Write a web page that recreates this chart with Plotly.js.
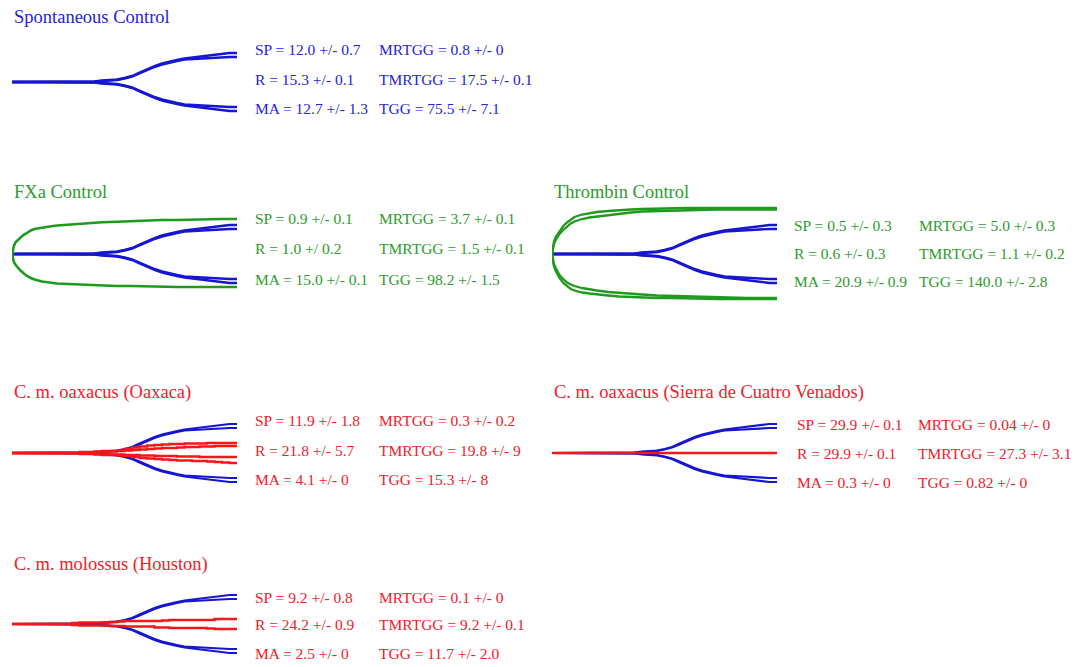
<!DOCTYPE html>
<html>
<head>
<meta charset="utf-8">
<script src="https://cdn.plot.ly/plotly-3.0.1.min.js"></script>
<style>html,body{margin:0;padding:0;background:#fff;}#chart{width:1084px;height:667px;}</style>
</head>
<body>
<div id="chart"></div>
<script>
// ---------- DATA ----------
const panelTitles = ['Spontaneous Control', 'FXa Control', 'Thrombin Control',
  'C. m. oaxacus (Oaxaca)', 'C. m. oaxacus (Sierra de Cuatro Venados)', 'C. m. molossus (Houston)'];
const leftParams = ['SP', 'R', 'MA'];
const rightParams = ['MRTGG', 'TMRTGG', 'TGG'];
const spValues = ['12.0 +/- 0.7', '0.9 +/- 0.1', '0.5 +/- 0.3', '11.9 +/- 1.8', '29.9 +/- 0.1', '9.2 +/- 0.8'];
const rValues = ['15.3 +/- 0.1', '1.0 +/ 0.2', '0.6 +/- 0.3', '21.8 +/- 5.7', '29.9 +/- 0.1', '24.2 +/- 0.9'];
const maValues = ['12.7 +/- 1.3', '15.0 +/- 0.1', '20.9 +/- 0.9', '4.1 +/- 0', '0.3 +/- 0', '2.5 +/- 0'];
const mrtggValues = ['0.8 +/- 0', '3.7 +/- 0.1', '5.0 +/- 0.3', '0.3 +/- 0.2', '0.04 +/- 0', '0.1 +/- 0'];
const tmrtggValues = ['17.5 +/- 0.1', '1.5 +/- 0.1', '1.1 +/- 0.2', '19.8 +/- 9', '27.3 +/- 3.1', '9.2 +/- 0.1'];
const tggValues = ['75.5 +/- 7.1', '98.2 +/- 1.5', '140.0 +/- 2.8', '15.3 +/- 8', '0.82 +/- 0', '11.7 +/- 2.0'];

// time grid (min) for spontaneous/venom traces
const timeMin = [0,2,4,6,8,10,12,14,16,18,20,22,24,26,28,30,32,34,36,38,40,42,44,46,48,50,52,54,56,58,60];
// spontaneous control amplitude (two replicates)
const ctrlRepA = [0,0,0,0,0,0,0,0,0,0,0,0.5,1.5,2,2.5,4,6,9.5,13,16,18.5,20.5,22,23.5,24.5,25.5,26.5,27.5,28.5,29,29];
const ctrlRepB = [0,0,0,0,0,0,0,0,0,0,0,0.5,1,1.5,2,3.5,5.5,8.5,12,15,17.5,19.5,21,22.5,23,23.5,24,24.5,25,25,25];
// C. m. oaxacus (Oaxaca) individual traces
const oaxLine1 = [0,0,0,0,0,0,0,0,0,1,1,1.5,2,2,2.5,4,5.5,6.5,7.5,8,8.5,9,9,9.5,9.5,9.5,10,10,10,10,10];
const oaxLine2 = [0,0,0,0,0,0,0,0,0,0,0.5,1,1,1.5,2,2.5,3,3.5,4,4.5,5,5,5.5,6,6,6.5,6.5,7,7,7,7];
const oaxLine3 = [0,0,0,0,0,0,0,0,0,0,-0.5,-1,-1,-1.5,-1.5,-2,-2,-2.5,-2.5,-3,-3,-3,-3.5,-3.5,-3.5,-4,-4,-4,-4,-4,-4];
const oaxLine4 = [0,0,0,0,0,0,0,0,0,-1,-1,-1.5,-2,-2,-2.5,-3,-4,-5,-5.5,-6,-6.5,-7,-7.5,-7.5,-8,-8,-8.5,-9,-9.5,-10,-10];
// C. m. oaxacus (Sierra de Cuatro Venados)
const sierraLine = [0,0,0,0,0,0,0,0,0,0,0,0,0,0,0,0,0,0,0,0,0,0,0,0,0,0,0,0,0,0,0];
// C. m. molossus (Houston)
const houLine1 = [0,0,0,0,0,0,0,0,1,1.5,1.5,1.5,1.5,2,2.5,3,3,3,3,3,3.5,4,4,4,4,4,4,5,5,5,5];
const houLine2 = [0,0,0,0,0,0,0,0,-1,-1.5,-1.5,-1.5,-1.5,-2,-2,-2.5,-2.5,-2.5,-2.5,-3.5,-3.5,-4,-4,-4,-4,-4,-4.5,-5,-5,-5,-5];

// fine time grid for rapidly clotting controls
const timeFine = [0,0.25,0.5,1,1.5,2,3,4,5,6,8,10,12,15,18,21,24,28,32,36,40,44,48,52,56,60];
const fxaUpper = [0,5,8,12,14,16,19,21,23.5,25,26.5,27.5,28.5,29.5,30.3,31,31.8,32.3,33,33.5,34,34,34.5,35,35,35];
const fxaLower = [0,-5,-8,-11,-13.5,-15.5,-19,-22,-24,-25.5,-27.5,-28.5,-29.5,-30,-30.5,-31,-31.5,-32,-32,-32.5,-32.5,-33,-33,-33,-33,-33];
const thrUpperA = [0,8,12,17,20,23,28,31.5,34.5,37,39.5,41,42,43,44,44.5,45,45.5,45.5,46,46,46,46,46,46,46];
const thrUpperB = [0,7,10,14,17,20,24,27.5,30.5,32.5,35,36.5,37.5,39,40.5,41.5,42.5,43,43.5,44,44,44.5,44.5,44.5,44.5,44.5];
const thrLowerA = [0,-8,-12,-17,-21,-24,-29,-32.5,-35,-36.5,-38.5,-39.5,-40.5,-41.5,-42.5,-43,-43.5,-44,-44,-44.5,-44.5,-45,-45,-45,-45,-45];
const thrLowerB = [0,-7,-10,-14,-18,-21,-25,-28.5,-30.5,-32,-34,-35.5,-36.5,-38,-39,-40,-40.5,-41.5,-42,-42.5,-43,-43.5,-43.5,-44,-44,-44];

// ---------- STYLE / LAYOUT ----------
const W = 1084, H = 667;
const BLUE = '#1616d2', GREEN = '#1e9a1e', RED = '#f01818';
const TXT_BLUE = '#2424dc', TXT_GREEN = '#2c9c2c', TXT_RED = '#f0202a';
const FONT = 'Liberation Serif, Times New Roman, serif';
const geo = [
  {x0:12,  x1:237, base:82,  c1:253, c2:377, rows:[50,79,108],  tx:12,  ty:17,  tc:TXT_BLUE},
  {x0:12,  x1:237, base:254, c1:253, c2:377, rows:[218,249,279], tx:12,  ty:192, tc:TXT_GREEN},
  {x0:552, x1:777, base:254, c1:792, c2:917, rows:[225,253,281], tx:552, ty:192, tc:TXT_GREEN},
  {x0:12,  x1:237, base:453, c1:253, c2:377, rows:[420,450,479], tx:12,  ty:392, tc:TXT_RED},
  {x0:552, x1:777, base:453, c1:795, c2:916, rows:[425,453,482], tx:552, ty:392, tc:TXT_RED},
  {x0:12,  x1:237, base:624, c1:253, c2:377, rows:[597,624,653], tx:12,  ty:564, tc:TXT_RED}
];
const px = x => x / W;
const py = y => 1 - y / H;
const neg = arr => arr.map(v => -v);

const traces = [];
const layout = {
  width: W, height: H,
  margin: {l:0, r:0, t:0, b:0},
  paper_bgcolor: '#fff', plot_bgcolor: 'rgba(0,0,0,0)',
  showlegend: false,
  annotations: []
};

function addLine(i, x, y, color, width, shape) {
  const s = i === 0 ? '' : String(i + 1);
  traces.push({x: x, y: y, xaxis: 'x' + s, yaxis: 'y' + s, type: 'scatter', mode: 'lines',
    line: {color: color, width: width, shape: shape || 'linear'}, hoverinfo: 'skip'});
}

geo.forEach((g, i) => {
  const s = i === 0 ? '' : String(i + 1);
  const h = Math.min(60, g.base - 2, H - g.base - 2);
  layout['xaxis' + s] = {domain: [px(g.x0), px(g.x1)], range: [0, 60], visible: false, fixedrange: true,
    anchor: 'y' + s};
  layout['yaxis' + s] = {domain: [py(g.base + h), py(g.base - h)], range: [-h, h], visible: false,
    fixedrange: true, anchor: 'x' + s};
  // spontaneous control reference in every panel
  const bw = i >= 3 ? 2.2 : 2.4;
  addLine(i, timeMin, ctrlRepA, BLUE, bw);
  addLine(i, timeMin, ctrlRepB, BLUE, bw);
  addLine(i, timeMin, neg(ctrlRepA), BLUE, bw);
  addLine(i, timeMin, neg(ctrlRepB), BLUE, bw);

  // titles and parameters
  layout.annotations.push({text: panelTitles[i], xref: 'paper', yref: 'paper', x: px(g.tx), y: py(g.ty),
    xanchor: 'left', yanchor: 'middle', showarrow: false, font: {family: FONT, size: 18.5, color: g.tc}});
  const lv = [spValues[i], rValues[i], maValues[i]];
  const rv = [mrtggValues[i], tmrtggValues[i], tggValues[i]];
  for (let k = 0; k < 3; k++) {
    layout.annotations.push({text: leftParams[k] + ' = ' + lv[k], xref: 'paper', yref: 'paper',
      x: px(g.c1), y: py(g.rows[k]), xanchor: 'left', yanchor: 'middle', showarrow: false,
      font: {family: FONT, size: 15.5, color: g.tc}});
    layout.annotations.push({text: rightParams[k] + ' = ' + rv[k], xref: 'paper', yref: 'paper',
      x: px(g.c2), y: py(g.rows[k]), xanchor: 'left', yanchor: 'middle', showarrow: false,
      font: {family: FONT, size: 15.5, color: g.tc}});
  }
});

// FXa control
addLine(1, timeFine, fxaUpper, GREEN, 2.6);
addLine(1, timeFine, fxaLower, GREEN, 2.6);
// Thrombin control
addLine(2, timeFine, thrUpperA, GREEN, 2.3);
addLine(2, timeFine, thrUpperB, GREEN, 2.3);
addLine(2, timeFine, thrLowerA, GREEN, 2.3);
addLine(2, timeFine, thrLowerB, GREEN, 2.3);
// Oaxaca
[oaxLine1, oaxLine2, oaxLine3, oaxLine4].forEach(l => addLine(3, timeMin, l, RED, 2.3, 'hv'));
// Sierra de Cuatro Venados
addLine(4, timeMin, sierraLine, RED, 2.3);
// Houston
[houLine1, houLine2].forEach(l => addLine(5, timeMin, l, RED, 2.5, 'hv'));

Plotly.newPlot('chart', traces, layout, {staticPlot: true, displayModeBar: false});
</script>
</body>
</html>
